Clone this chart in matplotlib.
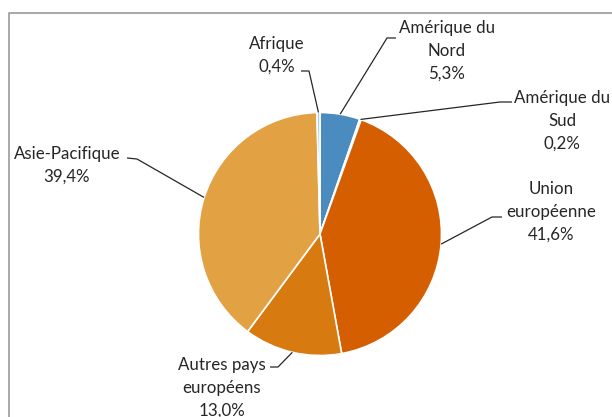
import numpy as np
import matplotlib.pyplot as plt

# parts by region, clockwise from the top
regions = ['Amérique du\nNord', 'Amérique du\nSud', 'Union\neuropéenne',
           'Autres pays\neuropéens', 'Asie-Pacifique', 'Afrique']
shares = [5.3, 0.2, 41.6, 13.0, 39.4, 0.4]
colors = ['#4A8CC0', '#8FA9C8', '#D55E00', '#D77A10', '#E2A244', '#A9C9E6']

W, H = 612, 417
fig = plt.figure(figsize=(W / 100, H / 100), dpi=100)
ax = fig.add_axes([0, 0, 1, 1])
ax.set_xlim(0, W)
ax.set_ylim(0, H)
ax.set_aspect('equal')
ax.axis('off')

# pixel y (from top) -> data y
def py(y):
	return H - y

cx, cy, r = 320, py(234), 121.5
wedges, _ = ax.pie(shares, colors=colors, startangle=90, counterclock=False,
                   center=(cx, cy), radius=r,
                   wedgeprops=dict(edgecolor='white', linewidth=1.2))
ax.set_xlim(0, W)
ax.set_ylim(0, H)

# label layout: text centre x, first line y, stub start, stub end, edge angle override
layout = {
	'Amérique du\nNord':       (447, 28, (396, 38), (387, 38), None),
	'Amérique du\nSud':        (562, 98, (512, 102), (500, 102), None),
	'Union\neuropéenne':       (551, 189, (502, 217), (492, 217), None),
	'Autres pays\neuropéens':  (222, 365, (270, 367), (278, 367), None),
	'Asie-Pacifique':          (67, 154, (127, 158), (137, 159), 162.5),
	'Afrique':                 (277, 44, (301, 71), (309, 71), None),
}

txt_color = '#262626'
for w, name, val in zip(wedges, regions, shares):
	x, y0, s0, s1, ang = layout[name]
	lines = name.split('\n') + [('%.1f%%' % val).replace('.', ',')]
	for i, ln in enumerate(lines):
		ax.text(x, py(y0 + 23 * i), ln, ha='center', va='center',
		        fontsize=12.2, family=['Lato', 'DejaVu Sans'], color=txt_color)
	if ang is None:
		ang = (w.theta1 + w.theta2) / 2
	ex = cx + r * np.cos(np.radians(ang))
	ey = cy + r * np.sin(np.radians(ang))
	ax.plot([s0[0], s1[0], ex], [py(s0[1]), py(s1[1]), ey], color='#262626',
	        lw=0.9, solid_capstyle='butt')

# chart frame (right and bottom edges fall outside the picture)
ax.plot([8.5, 8.5, W], [0, py(13), py(13)], color='#999999', lw=1.2)

fig.savefig('out.png', dpi=100)
